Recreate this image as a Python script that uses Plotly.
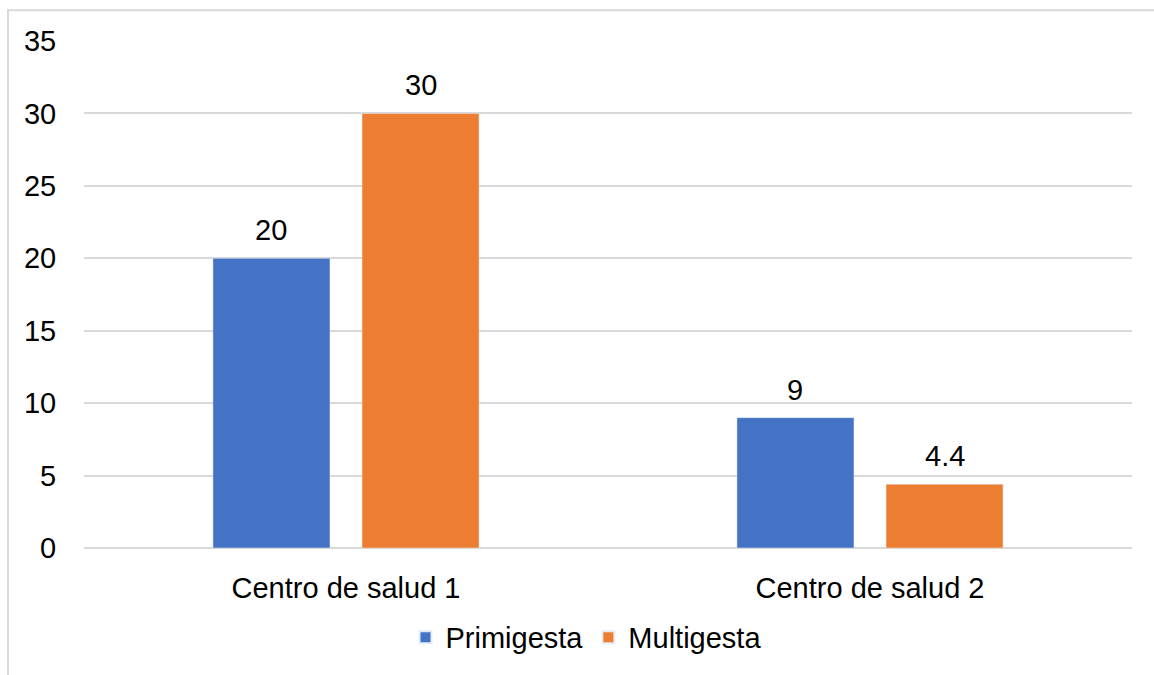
import plotly.graph_objects as go

categories = ["Centro de salud 1", "Centro de salud 2"]
primigesta = [20, 9]
multigesta = [30, 4.4]
label_prim = ["20", "9"]
label_multi = ["30", "4.4"]
y_ticks = [0, 5, 10, 15, 20, 25, 30, 35]

FONT = "Liberation Sans, Arial, sans-serif"
FS = 29
BLUE = "#4472C4"
ORANGE = "#ED7D31"
GRID = "#D9D9D9"

fig = go.Figure()
fig.add_trace(go.Bar(name="Primigesta", x=categories, y=primigesta, marker_color=BLUE))
fig.add_trace(go.Bar(name="Multigesta", x=categories, y=multigesta, marker_color=ORANGE))

bargap = 0.431
off = (1 - bargap) / 4
annotations = []
for i, (v, t) in enumerate(zip(primigesta, label_prim)):
    annotations.append(dict(x=i - off, y=v, text=t, xref="x", yref="y", showarrow=False,
                            yanchor="bottom", yshift=10, font=dict(family=FONT, size=FS, color="#000")))
for i, (v, t) in enumerate(zip(multigesta, label_multi)):
    annotations.append(dict(x=i + off, y=v, text=t, xref="x", yref="y", showarrow=False,
                            yanchor="bottom", yshift=10, font=dict(family=FONT, size=FS, color="#000")))

L, R, T, B = 84, 22, 41, 123
W, H = 1154, 675
pw, ph = W - L - R, H - T - B

fig.update_layout(
    width=W, height=H,
    margin=dict(l=L, r=R, t=T, b=B, pad=0),
    paper_bgcolor="white", plot_bgcolor="white",
    barmode="group", bargap=bargap, bargroupgap=0.215,
    font=dict(family=FONT, size=FS, color="#000"),
    annotations=annotations,
    legend=dict(orientation="h", x=(586 - L) / pw, xanchor="center",
                y=(H - B - 642) / ph, yanchor="middle",
                font=dict(family=FONT, size=FS, color="#000"),
                itemsizing="constant", traceorder="normal"),
    shapes=[dict(type="rect", xref="paper", yref="paper",
                 x0=(8 - L) / pw, x1=(1170 - L) / pw,
                 y0=(H - B - 690) / ph, y1=1 + (T - 10) / ph,
                 line=dict(color=GRID, width=2), fillcolor="rgba(0,0,0,0)", layer="below")],
)
fig.update_yaxes(range=[0, 35], tickvals=y_ticks, showgrid=True, gridcolor=GRID, gridwidth=2,
                 zeroline=True, zerolinecolor=GRID, zerolinewidth=2,
                 ticks="outside", ticklen=21, tickcolor="rgba(0,0,0,0)", showline=False,
                 tickfont=dict(family=FONT, size=FS, color="#000"))
fig.update_xaxes(showgrid=False, ticks="outside", ticklen=14, tickcolor="rgba(0,0,0,0)",
                 showline=False, tickfont=dict(family=FONT, size=FS, color="#000"))

fig.write_html("out.html")
